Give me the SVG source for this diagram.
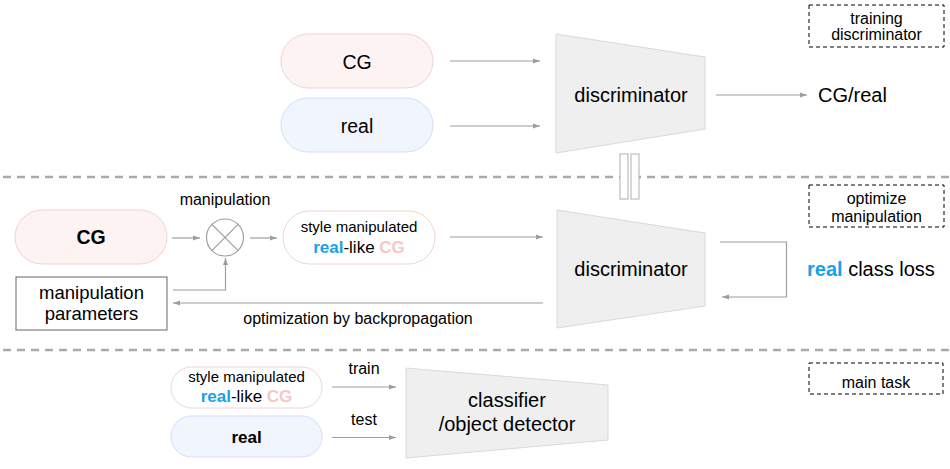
<svg xmlns="http://www.w3.org/2000/svg" width="950" height="469" viewBox="0 0 950 469">
<defs>
<marker id="ah" markerWidth="8" markerHeight="6" refX="7" refY="3" orient="auto" markerUnits="userSpaceOnUse">
<path d="M0,0.5 L7,3 L0,5.5 Z" fill="#9e9e9e"/>
</marker>
<style>
text{font-family:"Liberation Sans",Arial,sans-serif;fill:#000}
.ca{stroke:#9e9e9e;stroke-width:1.2;fill:none;marker-end:url(#ah)}
.sep{stroke:#aaaaaa;stroke-width:2.5;stroke-dasharray:8 6;fill:none}
.pink{fill:#fdf3f3;stroke:#efd4d4;stroke-width:1}
.blue{fill:#f1f5fe;stroke:#d3def8;stroke-width:1}
.white{fill:#ffffff;stroke:#efd4d4;stroke-width:1}
.trap{fill:#efefef;stroke:#d9d9d9;stroke-width:1}
.dash{fill:#fff;stroke:#000;stroke-width:1;stroke-dasharray:4 3}
.rb{fill:#1aa0e8;font-weight:bold}
.cg{fill:#f4c8c8;font-weight:bold}
</style>
</defs>

<g id="separators">
<line class="sep" x1="3" y1="177" x2="950" y2="177"/>
<line class="sep" x1="3" y1="350" x2="950" y2="350"/>
</g>

<g id="tag-training">
<rect class="dash" x="809" y="5" width="135" height="42"/>
<text x="876.5" y="23.5" font-size="16" text-anchor="middle">training</text>
<text x="876.5" y="40" font-size="16" text-anchor="middle">discriminator</text>
</g>
<g id="tag-optimize">
<rect class="dash" x="809" y="185" width="135" height="42"/>
<text x="876.5" y="203.5" font-size="16" text-anchor="middle">optimize</text>
<text x="876.5" y="221.5" font-size="16" text-anchor="middle">manipulation</text>
</g>
<g id="tag-main">
<rect class="dash" x="809" y="363" width="134" height="31"/>
<text x="876" y="387.5" font-size="16" text-anchor="middle">main task</text>
</g>

<g id="top-cg">
<rect class="pink" x="281" y="34" width="152" height="54" rx="27"/>
<text x="357" y="69" font-size="19.5" text-anchor="middle">CG</text>
</g>
<g id="top-real">
<rect class="blue" x="281" y="98" width="152" height="54" rx="27"/>
<text x="357" y="133" font-size="19.5" text-anchor="middle">real</text>
</g>
<g id="top-disc">
<polygon class="trap" points="556,34 705,57 705,129 556,153"/>
<text x="631" y="102" font-size="20" text-anchor="middle">discriminator</text>
</g>
<g id="top-out">
<text x="818" y="102" font-size="20">CG/real</text>
</g>
<g id="equal-bars">
<rect x="620" y="154" width="8" height="45" fill="#fff" stroke="#b0b0b0" stroke-width="1"/>
<rect x="631" y="154" width="8" height="45" fill="#fff" stroke="#b0b0b0" stroke-width="1"/>
</g>

<g id="mid-cg">
<rect class="pink" x="15" y="210" width="152" height="54" rx="27"/>
<text x="91" y="244" font-size="19.5" font-weight="bold" text-anchor="middle">CG</text>
</g>
<g id="mid-op">
<text x="225" y="205" font-size="16" text-anchor="middle">manipulation</text>
<circle cx="225" cy="237.5" r="18.5" fill="#fff" stroke="#9e9e9e" stroke-width="1.2"/>
<line x1="211.9" y1="224.4" x2="238.1" y2="250.6" stroke="#9e9e9e" stroke-width="1.2"/>
<line x1="238.1" y1="224.4" x2="211.9" y2="250.6" stroke="#9e9e9e" stroke-width="1.2"/>
</g>
<g id="mid-style">
<rect class="white" x="283" y="211" width="152" height="53" rx="26.5"/>
<text x="359" y="232" font-size="15" text-anchor="middle">style manipulated</text>
<text x="359" y="252.5" font-size="17" text-anchor="middle"><tspan class="rb">real</tspan>-like <tspan class="cg">CG</tspan></text>
</g>
<g id="mid-params">
<rect x="16" y="277" width="151" height="53" fill="#fff" stroke="#666" stroke-width="1"/>
<text x="91.5" y="299" font-size="18.5" text-anchor="middle">manipulation</text>
<text x="91.5" y="320" font-size="18.5" text-anchor="middle">parameters</text>
</g>
<g id="mid-disc">
<polygon class="trap" points="557,210 705,233 705,306 557,328"/>
<text x="631" y="276" font-size="20" text-anchor="middle">discriminator</text>
</g>
<g id="mid-loss">
<text x="807" y="276" font-size="20"><tspan class="rb">real</tspan> class loss</text>
</g>

<g id="bot-style">
<rect class="white" x="171" y="367" width="151" height="41" rx="20.5"/>
<text x="246.5" y="381.5" font-size="15" text-anchor="middle">style manipulated</text>
<text x="246.5" y="402" font-size="17" text-anchor="middle"><tspan class="rb">real</tspan>-like <tspan class="cg">CG</tspan></text>
</g>
<g id="bot-real">
<rect class="blue" x="171" y="416" width="151" height="41" rx="20.5"/>
<text x="246.5" y="442.5" font-size="17" font-weight="bold" text-anchor="middle">real</text>
</g>
<g id="bot-clf">
<polygon class="trap" points="406,368 608,385 608,440 406,458"/>
<text x="507" y="406.5" font-size="20" text-anchor="middle">classifier</text>
<text x="507" y="431" font-size="20" text-anchor="middle">/object detector</text>
</g>

<g id="connectors">
<line class="ca" x1="450" y1="61" x2="540" y2="61"/>
<line class="ca" x1="450" y1="126" x2="540" y2="126"/>
<line class="ca" x1="716" y1="95" x2="807" y2="95"/>
<line class="ca" x1="172" y1="238" x2="200" y2="238"/>
<line class="ca" x1="250" y1="238" x2="277" y2="238"/>
<line class="ca" x1="450" y1="237" x2="543" y2="237"/>
<path class="ca" d="M173 290 H225.5 V258"/>
<path class="ca" d="M720 242 H786.5 V297 H722"/>
<line class="ca" x1="543" y1="303" x2="173" y2="303"/>
<text x="358" y="323.5" font-size="16" text-anchor="middle">optimization by backpropagation</text>
<line class="ca" x1="332" y1="387" x2="396" y2="387"/>
<line class="ca" x1="332" y1="437.5" x2="396" y2="437.5"/>
<text x="364" y="374" font-size="16" text-anchor="middle">train</text>
<text x="364" y="425" font-size="16" text-anchor="middle">test</text>
</g>
</svg>
